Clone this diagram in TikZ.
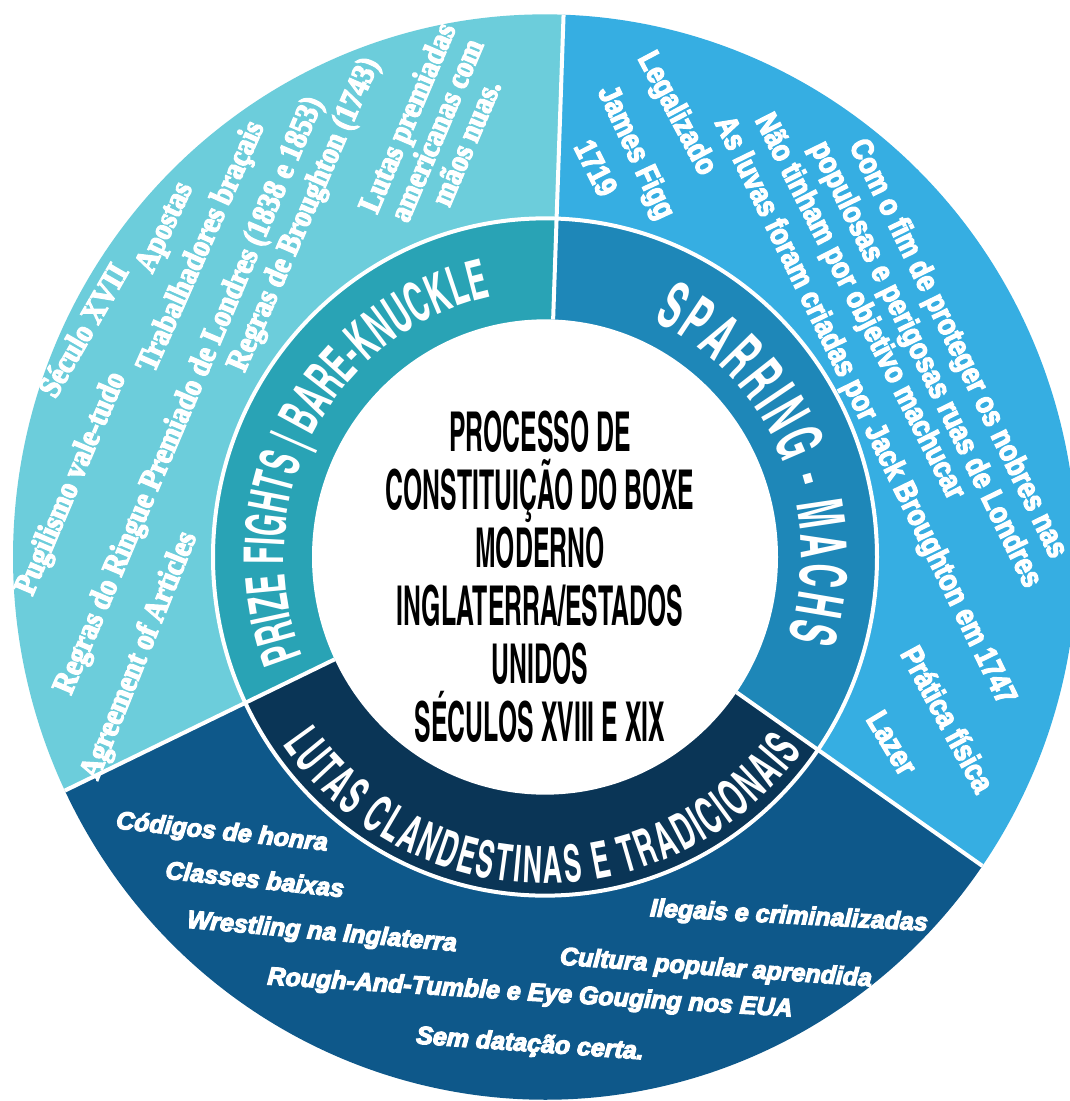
\documentclass[tikz,border=0pt]{standalone}
\usepackage{fontspec}
\usepackage{xcolor}
\usetikzlibrary{decorations.text}
\setmainfont{Liberation Serif}
\newfontfamily\condfont{texgyreheroscn}[Extension=.otf, UprightFont=*-bold, FakeStretch=0.55]
\newfontfamily\ringfam{texgyreheroscn}[Extension=.otf, UprightFont=*-bold, FakeStretch=0.64]
\newfontfamily\serifbold{Liberation Serif}[UprightFont=* Bold, FakeStretch=0.88, FakeBold=4]
\newfontfamily\heavysans{Liberation Sans}[UprightFont=* Bold, FakeStretch=0.84, FakeBold=4]
\newfontfamily\heavyital{Liberation Sans}[UprightFont=* Bold Italic, FakeBold=5]
\definecolor{cyanlight}{HTML}{6CCDDB}
\definecolor{tealring}{HTML}{29A3B5}
\definecolor{skyblue}{HTML}{36AEE2}
\definecolor{sparring}{HTML}{1E87B8}
\definecolor{navy}{HTML}{0E588A}
\definecolor{navyring}{HTML}{0A3556}
\newcommand\ringfont{\ringfam\fontsize{55}{55}\selectfont\color{white}}
\newcommand\ringfontbig{\ringfam\fontsize{64}{64}\selectfont\color{white}}
\newcommand\ringfontlow{\ringfam\fontsize{51}{51}\selectfont\color{white}}
\tikzset{
  divider/.style={draw=white, line width=4pt},
  lefttxt/.style={text=white, inner sep=0pt, align=center,
    font=\serifbold\fontsize{32}{32}\selectfont},
  righttxt/.style={text=white, inner sep=0pt, align=center,
    font=\heavysans\fontsize{31}{36}\selectfont},
  bottxt/.style={text=white, inner sep=0pt,
    font=\heavyital\fontsize{25}{26}\selectfont},
  centertxt/.style={text=black, align=center,
    font=\condfont\fontsize{55}{58}\selectfont},
  ringlabel/.style={decorate, decoration={text along path,
    text align=fit to path, text format delimiters={[}{]}}}
}

\begin{document}
\begin{tikzpicture}[x=1pt, y=-1pt]
  \useasboundingbox (0,0) rectangle (1070,1101);
  \fill[white] (0,0) rectangle (1070,1101);

  \def\rout{532}
  \def\rring{332}
  \def\rin{233}
  \begin{scope}[shift={(545,557)}, x=1pt, y=1.02pt]
    % outer ring
    \fill[cyanlight] (0,0) -- (88:\rout) arc[start angle=88, end angle=205.5, radius=\rout] -- cycle;
    \fill[navy] (0,0) -- (205.5:\rout) arc[start angle=205.5, end angle=325.3, radius=\rout] -- cycle;
    \fill[skyblue] (0,0) -- (-34.7:\rout) arc[start angle=-34.7, end angle=88, radius=\rout] -- cycle;
    % inner ring
    \fill[tealring] (0,0) -- (88:\rring) arc[start angle=88, end angle=205.5, radius=\rring] -- cycle;
    \fill[navyring] (0,0) -- (205.5:\rring) arc[start angle=205.5, end angle=325.3, radius=\rring] -- cycle;
    \fill[sparring] (0,0) -- (-34.7:\rring) arc[start angle=-34.7, end angle=88, radius=\rring] -- cycle;

    \draw[divider] (0,0) circle[radius=\rring];
    \foreach \a in {88,205.5,-34.7}
      \draw[divider] (\a:\rin) -- (\a:\rout);
    \fill[white] (0,0) circle[radius=\rin];

    % ring labels
    \path[ringlabel, decoration={text={[\ringfont]PRIZE FIGHTS | BARE-KNUCKLE}}]
      (202:261) arc[start angle=202, end angle=102, radius=261];
    \path[ringlabel, decoration={text={[\ringfontbig]SPARRING - MACHS}}]
      (65:256) arc[start angle=65, end angle=-18, radius=256];
    \path[ringlabel, decoration={text={[\ringfontlow]LUTAS CLANDESTINAS E TRADICIONAIS}}]
      (215:320) arc[start angle=215, end angle=323.5, radius=320];
  \end{scope}

  % center
  \node[centertxt] (centro) at (540,577) {PROCESSO DE\\CONSTITUIÇÃO DO BOXE\\MODERNO\\INGLATERRA/ESTADOS\\UNIDOS\\SÉCULOS XVIII E XIX};

  % bare-knuckle side
  \node[lefttxt, rotate=60] (seculo) at (83,330) {Século XVII};
  \node[lefttxt, rotate=65] (apostas) at (166,228) {Apostas};
  \node[lefttxt, rotate=67] (pugilismo) at (72,484) {Pugilismo vale-tudo};
  \node[lefttxt, rotate=66] (trabalhadores) at (202,247) {Trabalhadores braçais};
  \node[lefttxt, rotate=67] (ringue) at (190,396) {Regras do Ringue Premiado de Londres (1838 e 1853)};
  \node[lefttxt, rotate=68] (agreement) at (140,656) {Agreement of Articles};
  \node[lefttxt, rotate=66.5] (broughton) at (305,215) {Regras de Broughton (1743)};
  \node[lefttxt, rotate=67] (premiadas) at (436,130) {Lutas premiadas\\americanas com\\mãos nuas.};

  % sparring side
  \node[righttxt, rotate=-62] (legalizado) at (676,114) {Legalizado};
  \node[righttxt, rotate=-65] (figg) at (635,153) {James Figg};
  \node[righttxt, rotate=-63] (ano) at (596,168) {1719};
  \node[righttxt, rotate=-64] (luvas) at (864,411) {As luvas foram criadas por Jack Broughton em 1747};
  \node[righttxt, rotate=-63] (machucar) at (859,307) {Não tinham por objetivo machucar};
  \node[righttxt, rotate=-64] (nobres) at (941,357) {Com o fim de proteger os nobres nas\\populosas e perigosas ruas de Londres};
  \node[righttxt, rotate=-61.5] (pratica) at (948,719) {Prática física};
  \node[righttxt, rotate=-59] (lazer) at (892,743) {Lazer};

  % clandestine side
  \node[bottxt, rotate=-6] (codigos) at (222,833) {Códigos de honra};
  \node[bottxt, rotate=-6] (classes) at (255,879) {Classes baixas};
  \node[bottxt, rotate=-5] (wrestling) at (322,933) {Wrestling na Inglaterra};
  \node[bottxt, rotate=-3.5] (rough) at (530,994) {Rough-And-Tumble e Eye Gouging nos EUA};
  \node[bottxt, rotate=-4] (datacao) at (530,1045) {Sem datação certa.};
  \node[bottxt, rotate=-3] (ilegais) at (789,917) {Ilegais e criminalizadas};
  \node[bottxt, rotate=-4] (cultura) at (716,969) {Cultura popular aprendida};
\end{tikzpicture}
\end{document}
